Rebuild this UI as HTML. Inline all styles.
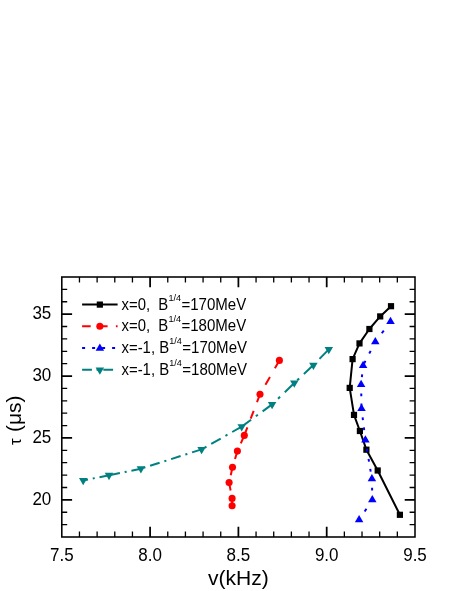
<!DOCTYPE html>
<html>
<head>
<meta charset="utf-8">
<title>chart</title>
<style>
html,body{margin:0;padding:0;background:#fff;}
body{width:457px;height:591px;overflow:hidden;font-family:"Liberation Sans",sans-serif;}
svg{display:block;filter:blur(0.35px);}
text{font-family:"Liberation Sans",sans-serif;fill:#000;}
</style>
</head>
<body>
<svg width="457" height="591" viewBox="0 0 457 591">
<rect x="0" y="0" width="457" height="591" fill="#ffffff"/>
<path d="M79.46 537 V531.6 M79.46 277 V282.4 M97.12 537 V531.6 M97.12 277 V282.4 M114.78 537 V531.6 M114.78 277 V282.4 M132.44 537 V531.6 M132.44 277 V282.4 M167.76 537 V531.6 M167.76 277 V282.4 M185.42 537 V531.6 M185.42 277 V282.4 M203.08 537 V531.6 M203.08 277 V282.4 M220.74 537 V531.6 M220.74 277 V282.4 M256.06 537 V531.6 M256.06 277 V282.4 M273.72 537 V531.6 M273.72 277 V282.4 M291.38 537 V531.6 M291.38 277 V282.4 M309.04 537 V531.6 M309.04 277 V282.4 M344.36 537 V531.6 M344.36 277 V282.4 M362.02 537 V531.6 M362.02 277 V282.4 M379.68 537 V531.6 M379.68 277 V282.4 M397.34 537 V531.6 M397.34 277 V282.4 M61.8 524.62 H67.2 M415 524.62 H409.6 M61.8 512.24 H67.2 M415 512.24 H409.6 M61.8 487.48 H67.2 M415 487.48 H409.6 M61.8 475.1 H67.2 M415 475.1 H409.6 M61.8 462.71 H67.2 M415 462.71 H409.6 M61.8 450.33 H67.2 M415 450.33 H409.6 M61.8 425.57 H67.2 M415 425.57 H409.6 M61.8 413.19 H67.2 M415 413.19 H409.6 M61.8 400.81 H67.2 M415 400.81 H409.6 M61.8 388.43 H67.2 M415 388.43 H409.6 M61.8 363.67 H67.2 M415 363.67 H409.6 M61.8 351.29 H67.2 M415 351.29 H409.6 M61.8 338.9 H67.2 M415 338.9 H409.6 M61.8 326.52 H67.2 M415 326.52 H409.6 M61.8 301.76 H67.2 M415 301.76 H409.6 M61.8 289.38 H67.2 M415 289.38 H409.6" stroke="#000" stroke-width="1.3" fill="none"/>
<path d="M150.1 537 V526.7 M150.1 277 V287.3 M238.4 537 V526.7 M238.4 277 V287.3 M326.7 537 V526.7 M326.7 277 V287.3 M61.8 499.86 H72.1 M415 499.86 H404.7 M61.8 437.95 H72.1 M415 437.95 H404.7 M61.8 376.05 H72.1 M415 376.05 H404.7 M61.8 314.14 H72.1 M415 314.14 H404.7" stroke="#000" stroke-width="1.75" fill="none"/>
<rect x="61.8" y="277" width="353.2" height="260" fill="none" stroke="#000" stroke-width="1.55"/>
<text transform="translate(51.3 505.01) scale(1 1.04)" font-size="17" text-anchor="end">20</text>
<text transform="translate(51.3 443.1) scale(1 1.04)" font-size="17" text-anchor="end">25</text>
<text transform="translate(51.3 381.2) scale(1 1.04)" font-size="17" text-anchor="end">30</text>
<text transform="translate(51.3 319.29) scale(1 1.04)" font-size="17" text-anchor="end">35</text>
<text transform="translate(61.8 560.9) scale(1 1.04)" font-size="17" text-anchor="middle">7.5</text>
<text transform="translate(150.1 560.9) scale(1 1.04)" font-size="17" text-anchor="middle">8.0</text>
<text transform="translate(238.4 560.9) scale(1 1.04)" font-size="17" text-anchor="middle">8.5</text>
<text transform="translate(326.7 560.9) scale(1 1.04)" font-size="17" text-anchor="middle">9.0</text>
<text transform="translate(415 560.9) scale(1 1.04)" font-size="17" text-anchor="middle">9.5</text>
<text transform="translate(238.3 584.6) scale(1.075 1)" x="0" y="0" font-size="19.6" text-anchor="middle">v(kHz)</text>
<g transform="translate(21.2 445) rotate(-90)"><text x="0" y="0" font-size="17">τ</text><text x="13" y="0" font-size="21">(μs)</text></g>
<path d="M391 306.2 L380.2 316.4 L369.4 329 L359.5 343.4 L352.6 359.1 L349.7 387.9 L354 414.9 L359.9 431 L366.4 449.7 L377.7 470.5 L399.9 514.8" stroke="#000" stroke-width="2" fill="none" stroke-linejoin="round"/>
<rect x="387.9" y="303.1" width="6.2" height="6.2" fill="#000"/><rect x="377.1" y="313.3" width="6.2" height="6.2" fill="#000"/><rect x="366.3" y="325.9" width="6.2" height="6.2" fill="#000"/><rect x="356.4" y="340.3" width="6.2" height="6.2" fill="#000"/><rect x="349.5" y="356" width="6.2" height="6.2" fill="#000"/><rect x="346.6" y="384.8" width="6.2" height="6.2" fill="#000"/><rect x="350.9" y="411.8" width="6.2" height="6.2" fill="#000"/><rect x="356.8" y="427.9" width="6.2" height="6.2" fill="#000"/><rect x="363.3" y="446.6" width="6.2" height="6.2" fill="#000"/><rect x="374.6" y="467.4" width="6.2" height="6.2" fill="#000"/><rect x="396.8" y="511.7" width="6.2" height="6.2" fill="#000"/>
<path d="M279.4 360.4 L260 394.3" stroke="#f00" stroke-width="2" fill="none" stroke-dasharray="9.1 9.91"/><path d="M260 394.3 L244.3 435.4" stroke="#f00" stroke-width="2" fill="none" stroke-dasharray="8.46 9.21"/><path d="M244.3 435.4 L237.4 451.1" stroke="#f00" stroke-width="2" fill="none" stroke-dasharray="8.63 9.39"/><path d="M237.4 451.1 L232.5 467.3" stroke="#f00" stroke-width="2" fill="none" stroke-dasharray="8.25 8.98"/><path d="M232.5 467.3 L229.1 482.6" stroke="#f00" stroke-width="2" fill="none" stroke-dasharray="8.09 8.81"/><path d="M229.1 482.6 L232.1 498.4" stroke="#f00" stroke-width="2" fill="none" stroke-dasharray="8.04 8.75"/><path d="M232.1 498.4 L232.1 505.7" stroke="#f00" stroke-width="2" fill="none" stroke-dasharray="7.9 8.6"/>
<circle cx="279.4" cy="360.4" r="3.55" fill="#f00"/><circle cx="260" cy="394.3" r="3.55" fill="#f00"/><circle cx="244.3" cy="435.4" r="3.55" fill="#f00"/><circle cx="237.4" cy="451.1" r="3.55" fill="#f00"/><circle cx="232.5" cy="467.3" r="3.55" fill="#f00"/><circle cx="229.1" cy="482.6" r="3.55" fill="#f00"/><circle cx="232.1" cy="498.4" r="3.55" fill="#f00"/><circle cx="232.1" cy="505.7" r="3.55" fill="#f00"/>
<path d="M390.5 321.6 L375.3 341.9" stroke="#00f" stroke-width="2" fill="none" stroke-dasharray="3.37 9.12" stroke-dashoffset="1.31"/><path d="M375.3 341.9 L363.1 365.5" stroke="#00f" stroke-width="2" fill="none" stroke-dasharray="3.04 8.22" stroke-dashoffset="1.18"/><path d="M363.1 365.5 L361.1 384.5" stroke="#00f" stroke-width="2" fill="none" stroke-dasharray="2.71 7.34" stroke-dashoffset="1.06"/><path d="M361.1 384.5 L361.5 408.5" stroke="#00f" stroke-width="2" fill="none" stroke-dasharray="2.7 7.3" stroke-dashoffset="1.05"/><path d="M361.5 408.5 L365.4 440" stroke="#00f" stroke-width="2" fill="none" stroke-dasharray="2.72 7.36" stroke-dashoffset="1.06"/><path d="M365.4 440 L371.9 478.9" stroke="#00f" stroke-width="2" fill="none" stroke-dasharray="2.74 7.4" stroke-dashoffset="1.06"/><path d="M371.9 478.9 L372.3 499.8" stroke="#00f" stroke-width="2" fill="none" stroke-dasharray="2.7 7.3" stroke-dashoffset="1.05"/><path d="M372.3 499.8 L359.1 519.9" stroke="#00f" stroke-width="2" fill="none" stroke-dasharray="3.23 8.73" stroke-dashoffset="1.26"/>
<polygon points="390.5,316.73 386.25,324.03 394.75,324.03" fill="#00f"/><polygon points="375.3,337.03 371.05,344.33 379.55,344.33" fill="#00f"/><polygon points="363.1,360.63 358.85,367.93 367.35,367.93" fill="#00f"/><polygon points="361.1,379.63 356.85,386.93 365.35,386.93" fill="#00f"/><polygon points="361.5,403.63 357.25,410.93 365.75,410.93" fill="#00f"/><polygon points="365.4,435.13 361.15,442.43 369.65,442.43" fill="#00f"/><polygon points="371.9,474.03 367.65,481.33 376.15,481.33" fill="#00f"/><polygon points="372.3,494.93 368.05,502.23 376.55,502.23" fill="#00f"/><polygon points="359.1,515.03 354.85,522.33 363.35,522.33" fill="#00f"/>
<path d="M328.8 349.4 L313.4 365.1" stroke="#008080" stroke-width="2" fill="none" stroke-dasharray="13.31 6.65 2.8 6.65"/><path d="M313.4 365.1 L294.3 383" stroke="#008080" stroke-width="2" fill="none" stroke-dasharray="13.02 6.51 2.74 6.51"/><path d="M294.3 383 L272.1 404.4" stroke="#008080" stroke-width="2" fill="none" stroke-dasharray="13.2 6.6 2.78 6.6"/><path d="M272.1 404.4 L241.7 426.6" stroke="#008080" stroke-width="2" fill="none" stroke-dasharray="11.76 5.88 2.48 5.88"/><path d="M241.7 426.6 L201.6 449.4" stroke="#008080" stroke-width="2" fill="none" stroke-dasharray="10.93 5.46 2.3 5.46"/><path d="M201.6 449.4 L140.9 468.7" stroke="#008080" stroke-width="2" fill="none" stroke-dasharray="9.97 4.98 2.1 4.98"/><path d="M140.9 468.7 L109 475.3" stroke="#008080" stroke-width="2" fill="none" stroke-dasharray="9.7 4.85 2.04 4.85"/><path d="M109 475.3 L83.2 480.4" stroke="#008080" stroke-width="2" fill="none" stroke-dasharray="9.68 4.84 2.04 4.84"/>
<polygon points="83.2,485.27 78.95,477.97 87.45,477.97" fill="#008080"/><polygon points="109,480.17 104.75,472.87 113.25,472.87" fill="#008080"/><polygon points="140.9,473.57 136.65,466.27 145.15,466.27" fill="#008080"/><polygon points="201.6,454.27 197.35,446.97 205.85,446.97" fill="#008080"/><polygon points="241.7,431.47 237.45,424.17 245.95,424.17" fill="#008080"/><polygon points="272.1,409.27 267.85,401.97 276.35,401.97" fill="#008080"/><polygon points="294.3,387.87 290.05,380.57 298.55,380.57" fill="#008080"/><polygon points="313.4,369.97 309.15,362.67 317.65,362.67" fill="#008080"/><polygon points="328.8,354.27 324.55,346.97 333.05,346.97" fill="#008080"/>
<path d="M82.1 304.6 H117.6" stroke="#000" stroke-width="2"/><rect x="96.75" y="301.5" width="6.2" height="6.2" fill="#000"/>
<path d="M82.1 326.3 H117.6" stroke="#f00" stroke-width="2" stroke-dasharray="8.6 8.3"/><circle cx="99.85" cy="326.3" r="3.55" fill="#f00"/>
<path d="M82.1 348 H117.6" stroke="#00f" stroke-width="2" stroke-dasharray="3 7"/><polygon points="99.85,343.53 95.6,350.83 104.1,350.83" fill="#00f"/>
<path d="M82.1 369.7 H117.6" stroke="#008080" stroke-width="2" stroke-dasharray="9.8 4.7 2 4.7"/><polygon points="99.85,374.87 95.6,367.57 104.1,367.57" fill="#008080"/>
<text transform="translate(121.5 309.7) scale(1 1.07)" font-size="14.9" xml:space="preserve">x=0,  B<tspan font-size="9.1" dx="0.2" dy="-8.5">1/4</tspan><tspan font-size="15.05" dx="0.3" dy="8.5">=170MeV</tspan></text>
<text transform="translate(121.5 331.4) scale(1 1.07)" font-size="14.9" xml:space="preserve">x=0,  B<tspan font-size="9.1" dx="0.2" dy="-8.5">1/4</tspan><tspan font-size="15.05" dx="0.3" dy="8.5">=180MeV</tspan></text>
<text transform="translate(121.5 353.1) scale(1 1.07)" font-size="14.9" xml:space="preserve">x=-1, B<tspan font-size="9.1" dx="0.2" dy="-8.5">1/4</tspan><tspan font-size="15.05" dx="0.3" dy="8.5">=170MeV</tspan></text>
<text transform="translate(121.5 374.8) scale(1 1.07)" font-size="14.9" xml:space="preserve">x=-1, B<tspan font-size="9.1" dx="0.2" dy="-8.5">1/4</tspan><tspan font-size="15.05" dx="0.3" dy="8.5">=180MeV</tspan></text>
</svg>
</body>
</html>
